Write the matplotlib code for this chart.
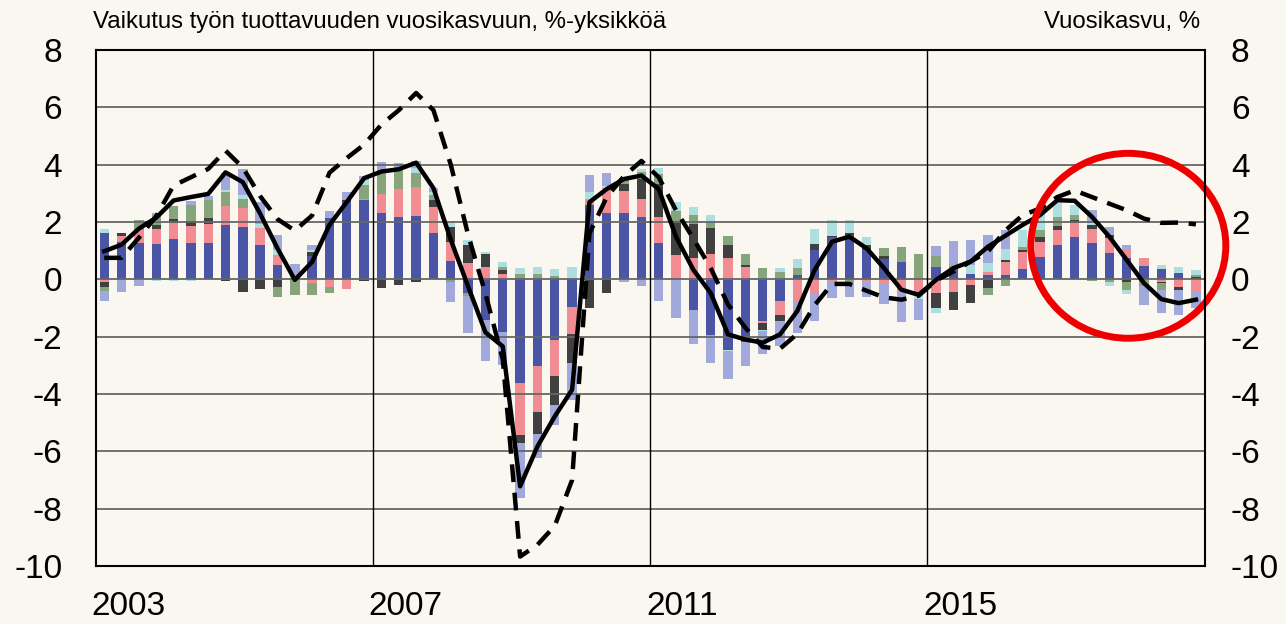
import numpy as np
import matplotlib
matplotlib.use("Agg")
from matplotlib import pyplot as plt
from matplotlib.patches import Ellipse
from matplotlib.transforms import ScaledTranslation

plt.rcParams['font.family'] = ['Liberation Sans', 'DejaVu Sans']
plt.rcParams['axes.unicode_minus'] = False

# quarterly data 2003Q1 - 2018Q4
years = [2003, 2007, 2011, 2015]
blue = [1.6, 1.3, 1.27, 1.23, 1.39, 1.27, 1.28, 1.88, 1.83, 1.19, 0.5, 0, 0.8, 2.15, 2.7, 2.75,
        2.33, 2.19, 2.21, 1.61, 0.65, -0.47, -1.41, -1.83, -3.63, -3.04, -2.12, -0.97, 2.6, 2.31, 2.31, 2.17,
        1.27, 0, -1.06, -1.93, -2.45, -2.19, -1.46, -0.77, 0.15, 1.02, 1.46, 1.54, 1.02, 0.7, 0.6, 0,
        0.42, 0.38, 0.2, 0.15, 0.16, 0.37, 0.77, 1.2, 1.49, 1.26, 0.91, 0.73, 0.46, 0.35, 0.23, 0]
pink = [-0.08, 0.2, 0.45, 0.54, 0.58, 0.58, 0.64, 0.69, 0.67, 0.6, 0.35, 0, -0.12, -0.28, -0.33, 0.05,
        0.65, 0.95, 1.0, 0.93, 0.66, 0.56, 0.44, 0.2, -1.8, -1.57, -1.26, -0.93, 0.2, 0.88, 0.76, 0.63,
        0.92, 0.84, 0.76, 0.88, 0.73, 0.44, -0.06, -0.46, -0.77, -0.51, -0.08, 0, -0.05, -0.15, -0.4, -0.5,
        -0.49, -0.43, -0.2, 0.12, 0.44, 0.58, 0.54, 0.52, 0.49, 0.49, 0.52, 0.31, 0.3, -0.08, -0.26, -0.43]
dgray = [-0.17, 0.12, 0, 0.12, 0.14, 0.18, 0.23, -0.06, -0.45, -0.35, -0.25, 0, 0.17, 0, 0.05, -0.05,
         -0.31, -0.2, -0.1, 0.23, 0.5, 0.64, 0.43, 0.12, -0.27, -0.78, -1.01, -1.03, -1.0, -0.48, 0.25, 0.7,
         1.13, 1.19, 1.18, 0.92, 0.46, 0.06, -0.23, -0.23, 0, 0.23, 0.05, 0.08, 0.17, 0.12, 0, 0,
         -0.52, -0.64, -0.62, -0.31, 0.07, 0.07, 0.17, 0.14, 0.09, 0.15, 0.12, -0.08, 0, -0.04, -0.12, 0.07]
green = [-0.14, 0, 0.35, 0.35, 0.44, 0.58, 0.6, 0.46, 0.31, 0, -0.37, -0.54, -0.43, -0.2, 0, 0.5,
         0.7, 0.67, 0.49, 0.17, -0.08, -0.12, 0, 0.1, 0.2, 0.17, 0.1, 0, 0, 0, 0.2, 0.25,
         0.35, 0.35, 0.29, 0.2, 0.31, 0.38, 0.38, 0.27, 0.25, 0, 0, -0.08, 0, 0.29, 0.52, 0.9,
         0.4, 0.1, 0, -0.23, -0.23, 0.12, 0.23, 0.3, 0.17, -0.05, -0.1, -0.29, -0.23, -0.26, 0, 0.08]
cyan = [0.14, 0, 0, -0.06, -0.06, -0.06, 0, 0.08, 0.12, 0.15, 0.17, 0.1, 0.06, 0, 0, 0.15,
        0, 0, 0.17, 0.12, 0.21, 0.16, 0.1, 0.17, 0.2, 0.25, 0.26, 0.42, 0.25, 0.08, 0, 0.1,
        0.23, 0.31, 0.31, 0.23, -0.06, 0, -0.06, 0.14, 0.32, 0.49, 0.55, 0.46, 0.27, 0, 0, -0.17,
        -0.15, 0, 0.3, 0.29, 0.4, 0.58, 0.58, 0.49, 0.35, 0.08, -0.14, -0.14, 0, 0.15, 0.19, 0.17]
lblue = [-0.35, -0.45, -0.23, 0.08, 0, 0.12, 0.17, 0.61, 0.92, 0.75, 0.54, 0.45, 0.17, 0.25, 0.3, 0.15,
         0.4, 0.26, 0.25, 0.14, -0.72, -1.27, -1.45, -1.16, -1.94, -0.85, -0.7, -1.28, 0.6, 0.43, -0.1, -0.23,
         -0.74, -1.35, -1.21, -0.98, -0.96, -0.83, -0.81, -0.87, -1.1, -0.96, -0.58, -0.52, -0.55, -0.7, -1.1, -0.75,
         0.35, 0.87, 0.87, 0.99, 0.66, 0, 0, 0, 0, 0.44, 0.29, 0.15, -0.66, -0.81, -0.87, -0.58]
solid = [0.98, 1.21, 1.77, 2.15, 2.75, 2.87, 2.98, 3.73, 3.39, 2.29, 1.08, -0.02, 0.61, 1.9, 2.7, 3.53,
         3.76, 3.84, 4.07, 3.18, 1.38, -0.25, -1.85, -2.34, -7.22, -5.83, -4.78, -3.85, 2.69, 3.15, 3.5, 3.62,
         3.15, 1.48, 0.33, -0.48, -1.92, -2.1, -2.21, -1.92, -1.1, 0.33, 1.31, 1.49, 1.08, 0.39, -0.36, -0.54,
         -0.02, 0.39, 0.62, 1.14, 1.52, 1.9, 2.24, 2.76, 2.74, 2.18, 1.49, 0.68, -0.13, -0.69, -0.83, -0.71]
dashed = [0.75, 0.75, 1.45, 2.2, 3.27, 3.56, 3.85, 4.49, 3.9, 2.9, 2.1, 1.7, 2.23, 3.72, 4.23, 4.7,
          5.4, 5.9, 6.5, 5.9, 4.0, 1.55, -0.5, -2.8, -9.67, -9.26, -8.6, -7.0, 1.6, 2.87, 3.6, 4.13,
          3.56, 2.4, 1.42, 0.39, -0.88, -1.69, -2.36, -2.42, -1.9, -0.9, -0.16, -0.16, -0.4, -0.63, -0.71, -0.57,
          -0.04, 0.27, 0.62, 0.97, 1.7, 2.24, 2.47, 2.87, 3.1, 2.87, 2.64, 2.41, 2.12, 1.97, 1.98, 1.92]

series = [blue, pink, dgray, green, cyan, lblue]
colors = ['#4B55A5', '#F08C92', '#404040', '#87A57D', '#AEDFE0', '#A1A8DB']
bg = '#FAF6F0'

fig = plt.figure(figsize=(12.86, 6.24), dpi=100, facecolor=bg)
ax = fig.add_axes([0.0743, 0.0929, 0.8624, 0.8270])
ax.set_facecolor(bg)

x = np.arange(len(blue))
pos_bottom = np.zeros(len(x))
neg_bottom = np.zeros(len(x))
for vals, c in zip(series, colors):
    v = np.array(vals, dtype=float)
    p = np.where(v > 0, v, 0)
    n = np.where(v < 0, v, 0)
    ax.bar(x, p, width=0.54, bottom=pos_bottom, color=c, zorder=2, linewidth=0)
    ax.bar(x, n, width=0.54, bottom=neg_bottom, color=c, zorder=2, linewidth=0)
    pos_bottom += p
    neg_bottom += n

for yv in range(-8, 8, 2):
    ax.axhline(yv, color='#666666', lw=1.3, zorder=3)
for k in range(1, len(years)):
    ax.axvline(-0.5 + 16 * k, color='black', lw=1.0, zorder=3)

ax.plot(x, dashed, color='black', lw=3.2, linestyle=(0, (4, 2.4)), zorder=5)
ax.plot(x, solid, color='black', lw=3.2, zorder=6)

circ = Ellipse((59.1, 1.17), 11.25, 6.45, fill=False, edgecolor='#EE0000', lw=5, zorder=7, clip_on=False)
ax.add_patch(circ)

ax.set_xlim(-0.5, 63.5)
ax.set_ylim(-10, 8)
ax.set_yticks(range(-10, 9, 2))
ax.set_xticks([-0.5 + 16 * k for k in range(len(years))])
ax.set_xticklabels([str(yr) for yr in years], ha='left')
ax.tick_params(axis='y', length=0, labelsize=24, pad=24)
ax.tick_params(axis='x', length=0, labelsize=24, pad=18)
shift = ScaledTranslation(-4 / 100, 0, fig.dpi_scale_trans)
for lab in ax.get_xticklabels():
    lab.set_transform(lab.get_transform() + shift)
for s in ax.spines.values():
    s.set_color('black')
    s.set_linewidth(1.5)
    s.set_zorder(8)

ax2 = ax.twinx()
ax2.set_ylim(-10, 8)
ax2.set_yticks(range(-10, 9, 2))
ax2.tick_params(axis='y', length=0, labelsize=24, pad=19)
for s in ax2.spines.values():
    s.set_visible(False)

fig.text(0.0723, 0.955, 'Vaikutus työn tuottavuuden vuosikasvuun, %-yksikköä', fontsize=17.3, ha='left', va='baseline')
fig.text(0.933, 0.955, 'Vuosikasvu, %', fontsize=17.3, ha='right', va='baseline')

fig.savefig('out.png', dpi=100, facecolor=bg)
